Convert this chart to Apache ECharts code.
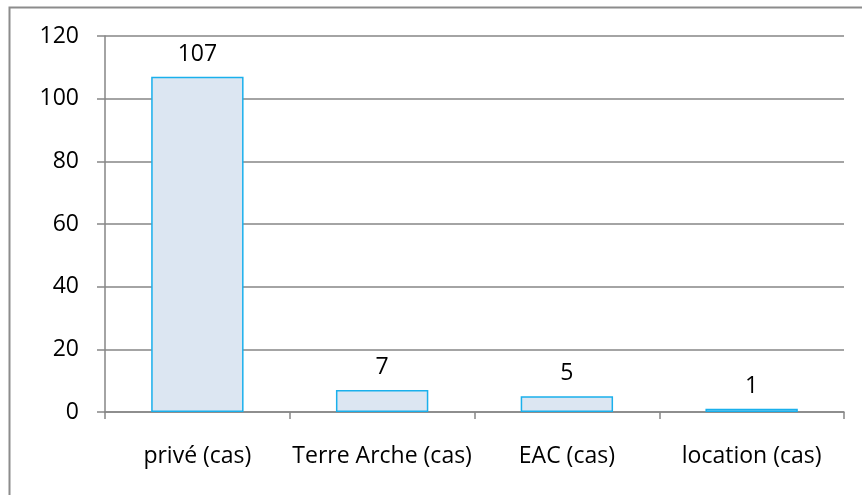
<!DOCTYPE html>
<html>
<head>
<meta charset="utf-8">
<script src="https://cdn.jsdelivr.net/npm/echarts@6/dist/echarts.min.js"></script>
<style>
  html, body { margin: 0; padding: 0; background: #fff; }
  #chart { width: 862px; height: 495px; }
</style>
</head>
<body>
<div id="chart"></div>
<script>
const categories = ["privé (cas)", "Terre Arche (cas)", "EAC (cas)", "location (cas)"];
const counts = [107, 7, 5, 1];
const yTicks = [0, 20, 40, 60, 80, 100, 120];

const chart = echarts.init(document.getElementById('chart'), null, {renderer: 'canvas'});
const font = "'Open Sans', sans-serif";
const option = {
    animation: false,
    graphic: [
        {
            type: 'rect',
            shape: {x: 9.5, y: 7.5, width: 900, height: 600},
            style: {fill: 'none', stroke: '#8c8c8c', lineWidth: 2}
        }
    ],
    grid: {left: 105, right: 18, top: 36, bottom: 83},
    xAxis: {
        type: 'category',
        data: categories,
        axisLine: {lineStyle: {color: '#868686', width: 1.5}},
        axisTick: {show: true, interval: 0, length: 7, lineStyle: {color: '#868686', width: 1.5}},
        axisLabel: {interval: 0, color: '#000', fontSize: 23, fontFamily: font, margin: 33}
    },
    yAxis: {
        type: 'value',
        min: yTicks[0],
        max: yTicks[yTicks.length - 1],
        interval: 20,
        axisLine: {show: true, lineStyle: {color: '#868686', width: 1.5}},
        axisTick: {show: true, length: 8, lineStyle: {color: '#868686', width: 1.5}},
        axisLabel: {color: '#000', fontSize: 23, fontFamily: font, margin: 26},
        splitLine: {lineStyle: {color: '#868686', width: 1.5}}
    },
    series: [
        {
            type: 'bar',
            data: counts,
            barWidth: '50%',
            itemStyle: {color: '#dce6f2', borderColor: '#1ab0ec', borderWidth: 1.5},
            label: {
                show: true,
                position: 'top',
                distance: 11,
                color: '#000',
                fontSize: 23,
                fontFamily: font
            }
        }
    ]
};
chart.setOption(option);
</script>
</body>
</html>
